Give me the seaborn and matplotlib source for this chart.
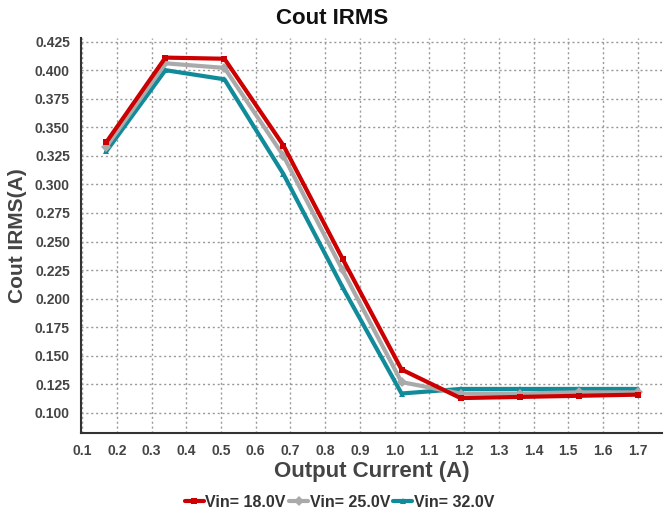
import matplotlib
matplotlib.use("Agg")
import matplotlib.pyplot as plt
import seaborn as sns
import pandas as pd

current = [0.17, 0.34, 0.51, 0.68, 0.85, 1.02, 1.19, 1.36, 1.53, 1.70]
vin18 = [0.337, 0.411, 0.410, 0.334, 0.235, 0.138, 0.113, 0.114, 0.115, 0.116]
vin25 = [0.333, 0.406, 0.402, 0.325, 0.225, 0.127, 0.117, 0.117, 0.118, 0.118]
vin32 = [0.329, 0.400, 0.392, 0.309, 0.210, 0.117, 0.121, 0.121, 0.121, 0.121]
series = ["Vin= 18.0V", "Vin= 25.0V", "Vin= 32.0V"]
x_ticks = [0.1, 0.2, 0.3, 0.4, 0.5, 0.6, 0.7, 0.8, 0.9, 1.0, 1.1, 1.2, 1.3, 1.4, 1.5, 1.6, 1.7]
y_ticks = [0.100, 0.125, 0.150, 0.175, 0.200, 0.225, 0.250, 0.275, 0.300, 0.325, 0.350, 0.375, 0.400, 0.425]

df = pd.DataFrame({
    "x": current * 3,
    "y": vin18 + vin25 + vin32,
    "s": [series[0]] * 10 + [series[1]] * 10 + [series[2]] * 10,
})

sns.set_style("white")
plt.rcParams["font.family"] = ["Liberation Sans", "DejaVu Sans"]
plt.rcParams["font.weight"] = "bold"

fig = plt.figure(figsize=(6.64, 5.16), dpi=100)
ax = fig.add_axes([0.122, 0.161, 0.875, 0.765])

palette = {series[0]: "#CC0000", series[1]: "#AAAAAA", series[2]: "#118A99"}
markers = {series[0]: "s", series[1]: "D", series[2]: "^"}
sns.lineplot(data=df, x="x", y="y", hue="s", style="s", palette=palette,
             markers=markers, dashes=False, linewidth=3, markersize=5,
             markeredgewidth=0, ax=ax, hue_order=[series[2], series[1], series[0]])

ax.set_xlim(0.097, 1.77)
ax.set_ylim(0.0825, 0.428)
ax.set_xticks(x_ticks)
ax.set_xticklabels([f"{t:.1f}" for t in x_ticks])
ax.set_yticks(y_ticks)
ax.set_yticklabels([f"{t:.3f}" for t in y_ticks])
ax.tick_params(axis="both", labelsize=10, colors="#444444", length=0, pad=8)
for lab in ax.get_xticklabels() + ax.get_yticklabels():
    lab.set_fontweight("bold")
ax.grid(True, color="#999999", linestyle=(0, (1.5, 2)), linewidth=1)
for s in ["top", "right"]:
    ax.spines[s].set_visible(False)
for s in ["left", "bottom"]:
    ax.spines[s].set_color("#333333")
    ax.spines[s].set_linewidth(1.5)

ax.set_xlabel("Output Current (A)", fontsize=16, fontweight="bold", color="#444444", labelpad=2)
ax.set_ylabel("Cout IRMS(A)", fontsize=15, fontweight="bold", color="#444444", labelpad=6)
fig.suptitle("Cout IRMS", x=0.5, y=0.985, fontsize=16, fontweight="bold", color="#111111")

handles, labels = ax.get_legend_handles_labels()
order = [labels.index(s) for s in series]
ax.legend([handles[i] for i in order], [labels[i] for i in order],
          loc="upper center", bbox_to_anchor=(0.445, -0.12), ncol=3, frameon=False,
          handlelength=1.2, handletextpad=0.1, columnspacing=0.2,
          labelcolor="#333333", prop={"weight": "bold", "size": 11.5})

fig.savefig("out.png", dpi=100)
